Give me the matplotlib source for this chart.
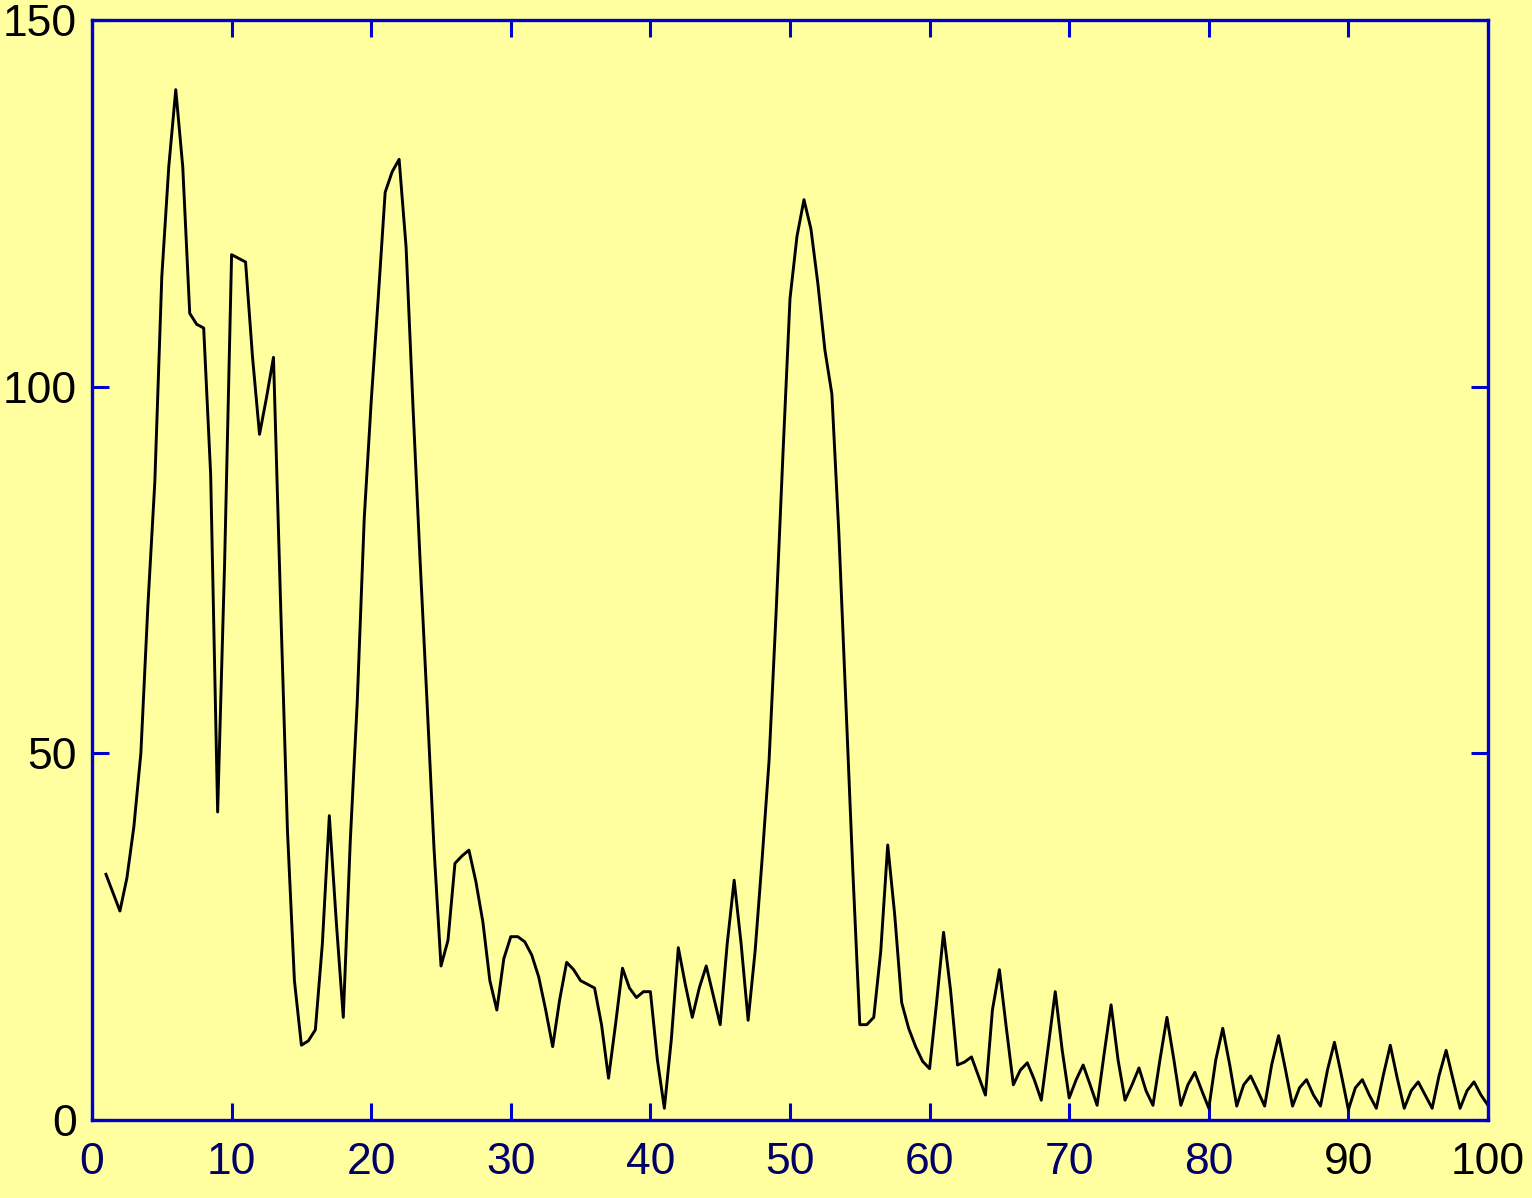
import numpy as np
import matplotlib
matplotlib.use("Agg")
import matplotlib.pyplot as plt

# samples every 0.5 from 1 to 100
x = np.arange(1, 100.5, 0.5)
y = [
    33.5, 31, 28.5, 33, 40, 50, 70, 87, 115, 130,          # 1 - 5.5
    140.5, 130, 110, 108.5, 108, 88, 42, 76, 118, 117.5,   # 6 - 10.5
    117, 104, 93.5, 98.5, 104, 71, 39.5, 19, 10.2, 10.8,   # 11 - 15.5
    12.3, 24, 41.5, 27, 14, 38, 57, 82, 98, 112,           # 16 - 20.5
    126.5, 129.3, 131, 119, 97, 76.4, 57, 37, 21, 24.5,    # 21 - 25.5
    35, 36, 36.8, 32.5, 27, 19, 15, 22, 25, 25,            # 26 - 30.5
    24.3, 22.5, 19.5, 15, 10, 16.4, 21.5, 20.5, 19, 18.5,  # 31 - 35.5
    18, 13, 5.7, 13, 20.7, 18, 16.7, 17.5, 17.5, 8.2,      # 36 - 40.5
    1.6, 11, 23.5, 18.5, 14, 18, 21, 17, 13, 24,           # 41 - 45.5
    32.7, 24, 13.6, 23, 35.5, 49, 69, 91, 112, 120.5,      # 46 - 50.5
    125.5, 121.5, 114, 105, 99, 80, 57, 34, 13, 13,        # 51 - 55.5
    14, 23, 37.5, 28, 16, 12.5, 10, 8, 7, 16,              # 56 - 60.5
    25.6, 17.7, 7.5, 7.9, 8.6, 6, 3.4, 15, 20.5, 12.5,     # 61 - 65.5
    4.8, 6.8, 7.8, 5.5, 2.7, 10, 17.5, 9.5, 3, 5.5,        # 66 - 70.5
    7.5, 4.8, 2, 9, 15.7, 8.2, 2.7, 4.8, 7.1, 4,           # 71 - 75.5
    2, 8.2, 14, 8.2, 2, 4.8, 6.5, 4, 1.6, 8.2,             # 76 - 80.5
    12.5, 7.5, 1.9, 4.8, 6, 4, 1.9, 7.5, 11.5, 6.8,        # 81 - 85.5
    1.9, 4.4, 5.5, 3.4, 1.9, 6.8, 10.6, 6.1, 1.4, 4.4,     # 86 - 90.5
    5.5, 3.4, 1.6, 6.1, 10.2, 5.7, 1.6, 4, 5.2, 3.4,       # 91 - 95.5
    1.6, 6.1, 9.5, 5.5, 1.6, 4, 5.2, 3.4, 2,               # 96 - 100
]
xticks = [0, 10, 20, 30, 40, 50, 60, 70, 80, 90, 100]
yticks = [0, 50, 100, 150]

bg = "#FFFFA0"
blue = "#0000CC"
font = ["Liberation Sans", "DejaVu Sans"]

fig = plt.figure(figsize=(15.32, 11.98), dpi=100, facecolor=bg)
ax = fig.add_axes([92 / 1532, 1 - 1120 / 1198, 1396 / 1532, 1100 / 1198])
ax.set_facecolor(bg)

ax.plot(x, y, color="black", lw=2.1)

ax.set_xlim(0, 100)
ax.set_ylim(0, 150)
ax.set_xticks(xticks)
ax.set_yticks(yticks)
ax.set_xticklabels([str(t) for t in xticks], family=font, fontsize=32)
ax.set_yticklabels([str(t) for t in yticks], family=font, fontsize=32)

for lab in ax.get_xticklabels():
    lab.set_color("black" if lab.get_text() in ("90", "100") else "#000066")

ax.tick_params(direction="in", length=12, width=2.2, color=blue,
               top=True, right=True)
ax.tick_params(axis="x", pad=16)
ax.tick_params(axis="y", pad=11)
for s in ax.spines.values():
    s.set_color(blue)
    s.set_linewidth(2.4)

fig.savefig("out.png", dpi=100, facecolor=bg)
